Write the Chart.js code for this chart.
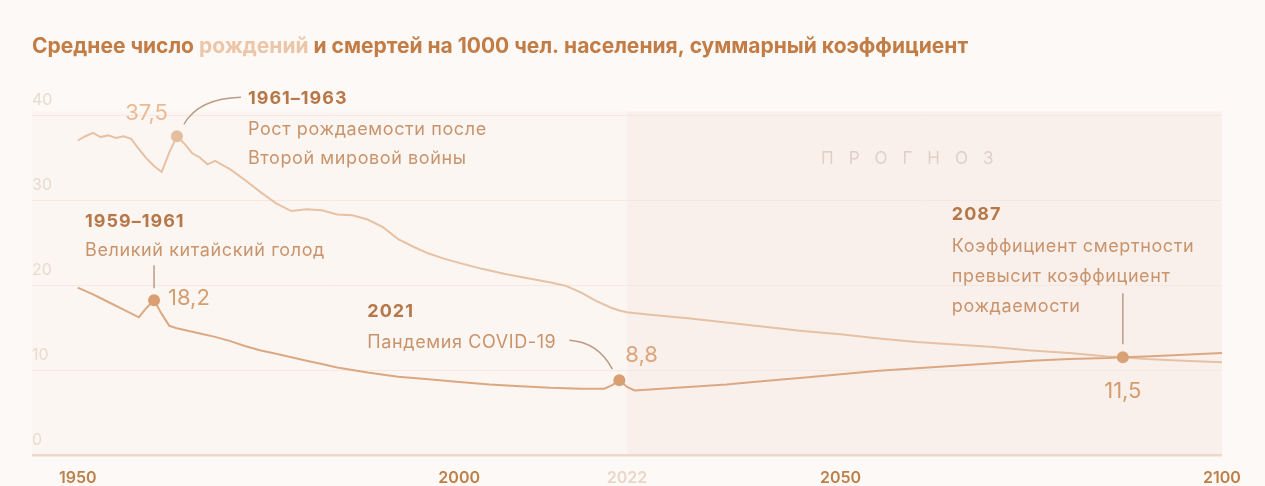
<!DOCTYPE html>
<html>
<head>
<meta charset="utf-8">
<script src="https://cdn.jsdelivr.net/npm/chart.js@4.4.1/dist/chart.umd.min.js"></script>
<style>
  html, body { margin: 0; padding: 0; background: #fdf9f6; }
  #wrap { width: 1265px; height: 486px; }
</style>
</head>
<body>
<div id="wrap"><canvas id="chart" width="1265" height="486"></canvas></div>
<script>
// рождаемость, на 1000 чел.
const birthYears = [1950,1951,1952,1953,1954,1955,1956,1957,1958,1959,1960,1961,1962,1963,1964,1965,1966,1967,1968,1969,
  1970,1972,1974,1976,1978,1980,1982,1984,1986,1988,1990,1992,1994,1996,1998,2000,2003,2006,2009,2012,2014,2016,2018,2020,2021,2022,
  2025,2030,2035,2040,2045,2050,2055,2060,2065,2070,2075,2080,2085,2087,2090,2095,2100];
const birthRates = [37.0,37.5,37.9,37.4,37.6,37.3,37.5,37.2,36.0,34.9,34.0,33.3,35.6,37.5,36.6,35.5,35.0,34.2,34.6,34.1,
  33.6,32.3,30.9,29.6,28.7,28.9,28.8,28.3,28.2,27.7,26.8,25.4,24.5,23.7,23.1,22.6,21.9,21.3,20.8,20.3,19.9,19.1,18.1,17.3,17.0,16.8,
  16.5,16.1,15.6,15.1,14.6,14.2,13.7,13.3,13.0,12.7,12.3,12.0,11.6,11.5,11.3,11.1,10.9];

// смертность, на 1000 чел.
const deathYears = [1950,1952,1954,1956,1958,1959,1960,1961,1962,1963,1964,1966,1968,1970,1972,1974,1976,1978,1980,1982,
  1984,1988,1992,1996,2000,2004,2008,2012,2016,2019,2020,2021,2022,2023,2025,2030,2035,2040,2045,2050,2055,2060,2065,2070,
  2075,2080,2085,2087,2090,2095,2100];
const deathRates = [19.7,18.9,18.0,17.1,16.2,17.3,18.2,16.6,15.2,14.9,14.7,14.3,13.9,13.4,12.8,12.3,11.9,11.5,11.1,10.7,
  10.3,9.7,9.2,8.9,8.6,8.3,8.1,7.9,7.8,7.8,8.2,8.8,8.0,7.6,7.7,8.0,8.3,8.7,9.1,9.5,9.9,10.2,10.5,10.8,
  11.1,11.3,11.4,11.5,11.6,11.8,12.0];

// отмеченные точки
const hlYears = [1963, 1960, 2021, 2087];
const hlValues = [37.5, 18.2, 8.8, 11.5];
const hlLabels = ['37,5', '18,2', '8,8', '11,5'];

const xTicks = [1950, 2000, 2022, 2050, 2100];
const yTicks = [0, 10, 20, 30, 40];
const forecastStart = 2022;

const birthColor = '#e7c1a4';
const deathColor = '#dba882';
const hlColors = ['#e5bd9f', '#d99f72', '#d99f72', '#d9a276'];

const FONT = 'Inter, "Noto Sans", sans-serif';

function txt(ctx, s, x, y, font, color, align, spacing) {
  ctx.font = font;
  ctx.fillStyle = color;
  ctx.textAlign = align || 'left';
  ctx.textBaseline = 'middle';
  ctx.letterSpacing = spacing || '0px';
  ctx.fillText(s, x, y);
  ctx.letterSpacing = '0px';
}

const decor = {
  id: 'decor',
  beforeDraw(chart) {
    const { ctx, chartArea: a, scales: { x, y } } = chart;
    ctx.save();
    ctx.fillStyle = '#fdf9f6';
    ctx.fillRect(0, 0, chart.width, chart.height);
    const top = y.getPixelForValue(40.4);
    ctx.fillStyle = '#fcf6f2';
    ctx.fillRect(a.left, top, a.right - a.left, a.bottom - top);
    const fx = x.getPixelForValue(forecastStart);
    ctx.fillStyle = '#f9f0eb';
    ctx.fillRect(fx, top, a.right - fx, a.bottom - top);

    // ПРОГНОЗ
    ctx.font = '17px ' + FONT;
    ctx.fillStyle = '#e0d0c6';
    ctx.textBaseline = 'middle';
    ctx.textAlign = 'left';
    let px = 821;
    for (const ch of 'ПРОГНОЗ') {
      ctx.fillText(ch, px, 159);
      px += ctx.measureText(ch).width + 15;
    }

    // заголовок
    const parts = [
      ['Среднее число ', '#c27c45'],
      ['рождений', '#ebc6a9'],
      [' и смертей на 1000 чел. населения, суммарный коэффициент', '#c27c45']
    ];
    ctx.font = 'bold 21px ' + FONT;
    let tx = 32;
    for (const [s, c] of parts) {
      ctx.fillStyle = c;
      ctx.fillText(s, tx, 47);
      tx += ctx.measureText(s).width;
    }
    ctx.restore();
  },
  afterDatasetsDraw(chart) {
    const { ctx, scales: { x, y } } = chart;
    const head = 'bold 18px ' + FONT;
    const body = '18px ' + FONT;
    const val = '22px ' + FONT;
    const headC = '#b67849';
    const bodyC = '#c9936b';
    const lineC = '#bb9c86';
    const hs = '1px', bs = '0.6px';
    const p = hlYears.map((yr, i) => ({ x: x.getPixelForValue(yr), y: y.getPixelForValue(hlValues[i]) }));
    ctx.save();
    ctx.strokeStyle = lineC;
    ctx.lineWidth = 1.5;

    // 1961–1963
    let d = p[0];
    txt(ctx, hlLabels[0], d.x - 9, d.y - 23, val, '#ebba92', 'right');
    ctx.beginPath();
    ctx.moveTo(d.x + 7, d.y - 12);
    ctx.quadraticCurveTo(d.x + 22, d.y - 38, d.x + 64, d.y - 39);
    ctx.stroke();
    txt(ctx, '1961–1963', d.x + 71, d.y - 38, head, headC, 'left', hs);
    txt(ctx, 'Рост рождаемости после', d.x + 71, d.y - 7, body, bodyC, 'left', bs);
    txt(ctx, 'Второй мировой войны', d.x + 71, d.y + 22, body, bodyC, 'left', bs);

    // 1959–1961
    d = p[1];
    ctx.beginPath();
    ctx.moveTo(d.x, d.y - 35);
    ctx.lineTo(d.x, d.y - 12);
    ctx.stroke();
    txt(ctx, hlLabels[1], d.x + 14, d.y - 2, val, '#d69f70');
    txt(ctx, '1959–1961', d.x - 69, d.y - 79, head, headC, 'left', hs);
    txt(ctx, 'Великий китайский голод', d.x - 69, d.y - 50, body, bodyC, 'left', bs);

    // 2021
    d = p[2];
    txt(ctx, hlLabels[2], d.x + 6, d.y - 25, val, '#dba67c');
    ctx.beginPath();
    ctx.moveTo(d.x - 50, d.y - 40);
    ctx.quadraticCurveTo(d.x - 21, d.y - 38, d.x - 7, d.y - 11);
    ctx.stroke();
    txt(ctx, '2021', d.x - 252, d.y - 69, head, headC, 'left', hs);
    txt(ctx, 'Пандемия COVID-19', d.x - 252, d.y - 38, body, bodyC, 'left', bs);

    // 2087
    d = p[3];
    ctx.beginPath();
    ctx.moveTo(d.x, d.y - 64);
    ctx.lineTo(d.x, d.y - 13);
    ctx.stroke();
    txt(ctx, '2087', d.x - 171, d.y - 143, head, headC, 'left', hs);
    txt(ctx, 'Коэффициент смертности', d.x - 171, d.y - 111, body, bodyC, 'left', bs);
    txt(ctx, 'превысит коэффициент', d.x - 171, d.y - 81, body, bodyC, 'left', bs);
    txt(ctx, 'рождаемости', d.x - 171, d.y - 51, body, bodyC, 'left', bs);
    txt(ctx, hlLabels[3], d.x, d.y + 34, val, '#d49c6c', 'center');
    ctx.restore();
  }
};

const ctx = document.getElementById('chart').getContext('2d');
new Chart(ctx, {
  type: 'line',
  data: {
    datasets: [
      {
        type: 'scatter',
        data: hlYears.map((yr, i) => ({ x: yr, y: hlValues[i] })),
        pointRadius: 6,
        pointBackgroundColor: hlColors,
        pointBorderWidth: 0
      },
      {
        label: 'Смертность',
        data: deathYears.map((yr, i) => ({ x: yr, y: deathRates[i] })),
        borderColor: deathColor,
        borderWidth: 2,
        pointRadius: 0,
        tension: 0
      },
      {
        label: 'Рождаемость',
        data: birthYears.map((yr, i) => ({ x: yr, y: birthRates[i] })),
        borderColor: birthColor,
        borderWidth: 2,
        pointRadius: 0,
        tension: 0
      }
    ]
  },
  options: {
    responsive: false,
    animation: false,
    layout: { padding: { left: 32, right: 43, top: 98, bottom: 0 } },
    plugins: { legend: { display: false }, tooltip: { enabled: false } },
    scales: {
      x: {
        type: 'linear',
        min: 1944,
        max: 2100,
        afterBuildTicks: s => { s.ticks = xTicks.map(v => ({ value: v })); },
        afterFit: s => { s.height = 31; },
        grid: { display: false, drawTicks: false },
        border: { display: false },
        ticks: {
          padding: 14,
          maxRotation: 0,
          autoSkip: false,
          font: { family: FONT, size: 16, weight: '600' },
          color: c => c.tick && c.tick.value === forecastStart ? '#ead6c8' : '#bd8049',
          callback: v => String(v)
        }
      },
      y: {
        min: 0,
        max: 42,
        afterBuildTicks: s => { s.ticks = yTicks.map(v => ({ value: v })); },
        afterFit: s => { s.width = 0; },
        border: { display: false },
        grid: {
          drawTicks: false,
          color: c => c.tick && c.tick.value === 0 ? '#ecd8ca' : '#f4e8e0',
          lineWidth: c => c.tick && c.tick.value === 0 ? 2.5 : 1
        },
        ticks: {
          mirror: true,
          padding: 0,
          labelOffset: -15,
          font: { family: FONT, size: 16 },
          color: '#e9dad0'
        }
      }
    }
  },
  plugins: [decor]
});
</script>
</body>
</html>
